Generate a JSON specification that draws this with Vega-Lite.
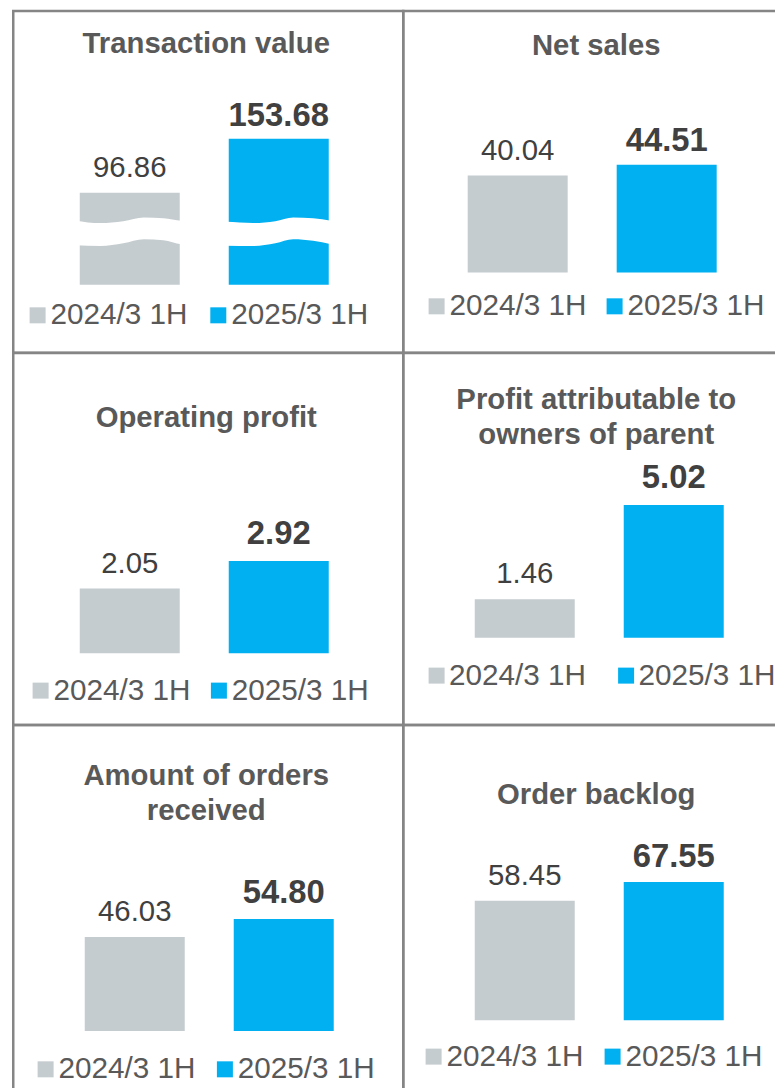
{
  "$schema": "https://vega.github.io/schema/vega-lite/v6.json",
  "padding": {"left": 11.25, "top": 9.05, "right": 0, "bottom": 0},
  "background": "white",
  "data": {"values": [
    {"metric": "Transaction value", "period": "2024/3 1H", "value": 96.86},
    {"metric": "Transaction value", "period": "2025/3 1H", "value": 153.68},
    {"metric": "Net sales", "period": "2024/3 1H", "value": 40.04},
    {"metric": "Net sales", "period": "2025/3 1H", "value": 44.51},
    {"metric": "Operating profit", "period": "2024/3 1H", "value": 2.05},
    {"metric": "Operating profit", "period": "2025/3 1H", "value": 2.92},
    {"metric": "Profit attributable to owners of parent", "period": "2024/3 1H", "value": 1.46},
    {"metric": "Profit attributable to owners of parent", "period": "2025/3 1H", "value": 5.02},
    {"metric": "Amount of orders received", "period": "2024/3 1H", "value": 46.03},
    {"metric": "Amount of orders received", "period": "2025/3 1H", "value": 54.80},
    {"metric": "Order backlog", "period": "2024/3 1H", "value": 58.45},
    {"metric": "Order backlog", "period": "2025/3 1H", "value": 67.55}
  ]},
  "config": {
    "font": "Liberation Sans",
    "view": {"stroke": "#858585", "strokeWidth": 2.5},
    "concat": {"spacing": 0},
    "title": {"fontSize": 29.3, "fontWeight": "bold", "color": "#595959", "anchor": "middle", "frame": "group", "lineHeight": 35, "dx": -2},
    "legend": {"orient": "none", "direction": "horizontal", "title": null, "symbolType": "square", "symbolSize": 256, "symbolStrokeWidth": 0, "labelFontSize": 29.7, "labelColor": "#595959", "labelOffset": -2, "labelLimit": 300}
  },
  "columns": 2,
  "spacing": 0,
  "bounds": "flush",
  "align": "each",
  "resolve": {"scale": {"color": "independent"}, "legend": {"color": "independent"}},
  "concat": [
        {
          "width": 390, "height": 341.7,
          "title": {"text": "Transaction value", "offset": -48},
          "resolve": {"scale": {"x": "independent"}},
          "layer": [
            {
              "transform": [{"filter": "datum.metric === 'Transaction value'"}],
              "mark": {"type": "bar"},
              "encoding": {
                "x": {"field": "period", "type": "nominal", "axis": null, "scale": {"type": "band", "domain": ["2024/3 1H", "2025/3 1H"], "paddingInner": 0.3289, "paddingOuter": 0.4732, "align": 0.4716}},
                "y": {"field": "value", "type": "quantitative", "axis": null, "scale": {"domain": [-71.58, 288.1], "nice": false, "zero": false}},
                "color": {"field": "period", "type": "nominal", "scale": {"domain": ["2024/3 1H", "2025/3 1H"], "range": ["#C5CCCF", "#00B0F0"]},
                  "legend": {"legendX": 9.5, "legendY": 289.2, "columnPadding": 15.7}}
              }
            },
            {
              "data": {"values": [
                {"wx": 0.159, "hi": 67.4, "lo": 41.6},
                {"wx": 0.224, "hi": 64.9, "lo": 40.8},
                {"wx": 0.282, "hi": 66.8, "lo": 43.7},
                {"wx": 0.335, "hi": 70.7, "lo": 47.9},
                {"wx": 0.385, "hi": 70.0, "lo": 46.8},
                {"wx": 0.431, "hi": 67.4, "lo": 42.6},
                {"wx": 0.490, "hi": 66.3, "lo": 41.3},
                {"wx": 0.546, "hi": 66.3, "lo": 41.0},
                {"wx": 0.615, "hi": 64.9, "lo": 40.8},
                {"wx": 0.672, "hi": 66.8, "lo": 43.7},
                {"wx": 0.718, "hi": 70.7, "lo": 47.9},
                {"wx": 0.769, "hi": 70.0, "lo": 46.3},
                {"wx": 0.815, "hi": 67.4, "lo": 42.6}
              ]},
              "mark": {"type": "area", "fill": "#ffffff", "interpolate": "monotone"},
              "encoding": {
                "x": {"field": "wx", "type": "quantitative", "axis": null, "scale": {"domain": [0, 1], "nice": false, "zero": false}},
                "y": {"field": "hi", "type": "quantitative", "axis": null, "scale": {"domain": [-71.58, 288.1], "nice": false, "zero": false}},
                "y2": {"field": "lo"}
              }
            },
            {
              "transform": [{"filter": "datum.metric === 'Transaction value' && datum.period === '2024/3 1H'"}],
              "mark": {"type": "text", "baseline": "alphabetic", "dy": -16, "fontSize": 29.4, "color": "#404040"},
              "encoding": {
                "x": {"field": "period", "type": "nominal", "axis": null, "band": 0.5, "scale": {"type": "band", "domain": ["2024/3 1H", "2025/3 1H"], "paddingInner": 0.3289, "paddingOuter": 0.4732, "align": 0.4716}},
                "y": {"field": "value", "type": "quantitative", "axis": null, "scale": {"domain": [-71.58, 288.1], "nice": false, "zero": false}},
                "text": {"field": "value", "type": "quantitative", "format": ".2f"}
              }
            },
            {
              "transform": [{"filter": "datum.metric === 'Transaction value' && datum.period === '2025/3 1H'"}],
              "mark": {"type": "text", "baseline": "alphabetic", "dy": -12.7, "fontSize": 32.8, "fontWeight": "bold", "color": "#404040"},
              "encoding": {
                "x": {"field": "period", "type": "nominal", "axis": null, "band": 0.5, "scale": {"type": "band", "domain": ["2024/3 1H", "2025/3 1H"], "paddingInner": 0.3289, "paddingOuter": 0.4732, "align": 0.4716}},
                "y": {"field": "value", "type": "quantitative", "axis": null, "scale": {"domain": [-71.58, 288.1], "nice": false, "zero": false}},
                "text": {"field": "value", "type": "quantitative", "format": ".2f"}
              }
            }
          ]
        },
        {
          "width": 390, "height": 341.7,
          "title": {"text": "Net sales", "offset": -50},
          "transform": [{"filter": "datum.metric === 'Net sales'"}],
          "encoding": {
            "x": {"field": "period", "type": "nominal", "axis": null, "scale": {"domain": ["2024/3 1H", "2025/3 1H"], "paddingInner": 0.3289, "paddingOuter": 0.4732, "align": 0.457}},
            "y": {"field": "value", "type": "quantitative", "axis": null, "scale": {"domain": [-33.18, 108.02], "nice": false, "zero": false}}
          },
          "layer": [
            {
              "mark": {"type": "bar"},
              "encoding": {
                "color": {"field": "period", "type": "nominal", "scale": {"domain": ["2024/3 1H", "2025/3 1H"], "range": ["#C5CCCF", "#00B0F0"]},
                  "legend": {"legendX": 18.5, "legendY": 280.2, "columnPadding": 13}}
              }
            },
            {
              "transform": [{"filter": "datum.period === '2024/3 1H'"}],
              "mark": {"type": "text", "baseline": "alphabetic", "dy": -16, "fontSize": 29.4, "color": "#404040"},
              "encoding": {"text": {"field": "value", "type": "quantitative", "format": ".2f"}}
            },
            {
              "transform": [{"filter": "datum.period === '2025/3 1H'"}],
              "mark": {"type": "text", "baseline": "alphabetic", "dy": -13.3, "fontSize": 32.8, "fontWeight": "bold", "color": "#404040"},
              "encoding": {"text": {"field": "value", "type": "quantitative", "format": ".2f"}}
            }
          ]
        },
        {
          "width": 390, "height": 372,
          "title": {"text": "Operating profit", "offset": -80.3},
          "transform": [{"filter": "datum.metric === 'Operating profit'"}],
          "encoding": {
            "x": {"field": "period", "type": "nominal", "axis": null, "scale": {"domain": ["2024/3 1H", "2025/3 1H"], "paddingInner": 0.3289, "paddingOuter": 0.4732, "align": 0.4716}},
            "y": {"field": "value", "type": "quantitative", "axis": null, "scale": {"domain": [-2.274, 9.506], "nice": false, "zero": false}}
          },
          "layer": [
            {
              "mark": {"type": "bar"},
              "encoding": {
                "color": {"field": "period", "type": "nominal", "scale": {"domain": ["2024/3 1H", "2025/3 1H"], "range": ["#C5CCCF", "#00B0F0"]},
                  "legend": {"legendX": 12.5, "legendY": 322.5, "columnPadding": 13.3}}
              }
            },
            {
              "transform": [{"filter": "datum.period === '2024/3 1H'"}],
              "mark": {"type": "text", "baseline": "alphabetic", "dy": -16, "fontSize": 29.4, "color": "#404040"},
              "encoding": {"text": {"field": "value", "type": "quantitative", "format": ".2f"}}
            },
            {
              "transform": [{"filter": "datum.period === '2025/3 1H'"}],
              "mark": {"type": "text", "baseline": "alphabetic", "dy": -17.3, "fontSize": 32.8, "fontWeight": "bold", "color": "#404040"},
              "encoding": {"text": {"field": "value", "type": "quantitative", "format": ".2f"}}
            }
          ]
        },
        {
          "width": 390, "height": 372,
          "title": {"text": ["Profit attributable to", "owners of parent"], "offset": -97},
          "transform": [{"filter": "datum.metric === 'Profit attributable to owners of parent'"}],
          "encoding": {
            "x": {"field": "period", "type": "nominal", "axis": null, "scale": {"domain": ["2024/3 1H", "2025/3 1H"], "paddingInner": 0.3289, "paddingOuter": 0.4732, "align": 0.507}},
            "y": {"field": "value", "type": "quantitative", "axis": null, "scale": {"domain": [-3.303, 10.772], "nice": false, "zero": false}}
          },
          "layer": [
            {
              "mark": {"type": "bar"},
              "encoding": {
                "color": {"field": "period", "type": "nominal", "scale": {"domain": ["2024/3 1H", "2025/3 1H"], "range": ["#C5CCCF", "#00B0F0"]},
                  "legend": {"legendX": 18.5, "legendY": 307.5, "labelOffset": -2.5, "columnPadding": 24.5}}
              }
            },
            {
              "transform": [{"filter": "datum.period === '2024/3 1H'"}],
              "mark": {"type": "text", "baseline": "alphabetic", "dy": -16, "fontSize": 29.4, "color": "#404040"},
              "encoding": {"text": {"field": "value", "type": "quantitative", "format": ".2f"}}
            },
            {
              "transform": [{"filter": "datum.period === '2025/3 1H'"}],
              "mark": {"type": "text", "baseline": "alphabetic", "dy": -17.3, "fontSize": 32.8, "fontWeight": "bold", "color": "#404040"},
              "encoding": {"text": {"field": "value", "type": "quantitative", "format": ".2f"}}
            }
          ]
        },
        {
          "width": 390, "height": 372,
          "title": {"text": ["Amount of orders", "received"], "offset": -101.3},
          "transform": [{"filter": "datum.metric === 'Amount of orders received'"}],
          "encoding": {
            "x": {"field": "period", "type": "nominal", "axis": null, "scale": {"domain": ["2024/3 1H", "2025/3 1H"], "paddingInner": 0.3289, "paddingOuter": 0.4732, "align": 0.507}},
            "y": {"field": "value", "type": "quantitative", "axis": null, "scale": {"domain": [-32.29, 149.71], "nice": false, "zero": false}}
          },
          "layer": [
            {
              "mark": {"type": "bar"},
              "encoding": {
                "color": {"field": "period", "type": "nominal", "scale": {"domain": ["2024/3 1H", "2025/3 1H"], "range": ["#C5CCCF", "#00B0F0"]},
                  "legend": {"legendX": 17.5, "legendY": 329.2, "columnPadding": 14.3}}
              }
            },
            {
              "transform": [{"filter": "datum.period === '2024/3 1H'"}],
              "mark": {"type": "text", "baseline": "alphabetic", "dy": -16, "fontSize": 29.4, "color": "#404040"},
              "encoding": {"text": {"field": "value", "type": "quantitative", "format": ".2f"}}
            },
            {
              "transform": [{"filter": "datum.period === '2025/3 1H'"}],
              "mark": {"type": "text", "baseline": "alphabetic", "dy": -16.3, "fontSize": 32.8, "fontWeight": "bold", "color": "#404040"},
              "encoding": {"text": {"field": "value", "type": "quantitative", "format": ".2f"}}
            }
          ]
        },
        {
          "width": 390, "height": 372,
          "title": {"text": "Order backlog", "offset": -85},
          "transform": [{"filter": "datum.metric === 'Order backlog'"}],
          "encoding": {
            "x": {"field": "period", "type": "nominal", "axis": null, "scale": {"domain": ["2024/3 1H", "2025/3 1H"], "paddingInner": 0.3289, "paddingOuter": 0.4732, "align": 0.507}},
            "y": {"field": "value", "type": "quantitative", "axis": null, "scale": {"domain": [-37.47, 144.26], "nice": false, "zero": false}}
          },
          "layer": [
            {
              "mark": {"type": "bar"},
              "encoding": {
                "color": {"field": "period", "type": "nominal", "scale": {"domain": ["2024/3 1H", "2025/3 1H"], "range": ["#C5CCCF", "#00B0F0"]},
                  "legend": {"legendX": 15.5, "legendY": 316.5, "columnPadding": 14}}
              }
            },
            {
              "transform": [{"filter": "datum.period === '2024/3 1H'"}],
              "mark": {"type": "text", "baseline": "alphabetic", "dy": -16, "fontSize": 29.4, "color": "#404040"},
              "encoding": {"text": {"field": "value", "type": "quantitative", "format": ".2f"}}
            },
            {
              "transform": [{"filter": "datum.period === '2025/3 1H'"}],
              "mark": {"type": "text", "baseline": "alphabetic", "dy": -15.3, "fontSize": 32.8, "fontWeight": "bold", "color": "#404040"},
              "encoding": {"text": {"field": "value", "type": "quantitative", "format": ".2f"}}
            }
          ]
        }
  ]
}
